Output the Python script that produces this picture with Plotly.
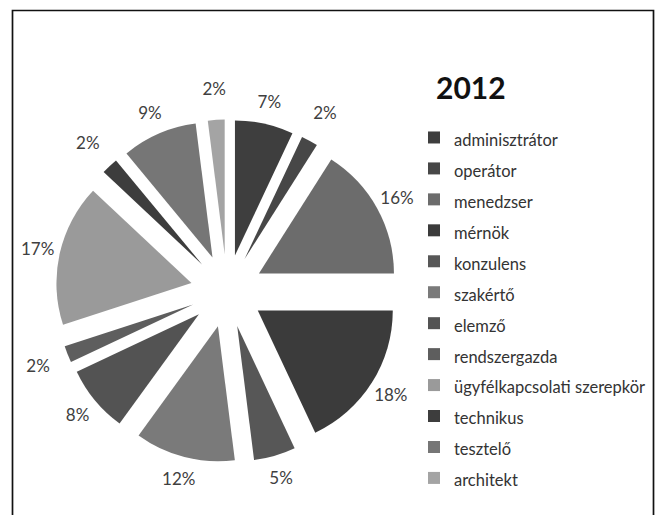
import plotly.graph_objects as go

categories = ["adminisztrátor", "operátor", "menedzser", "mérnök", "konzulens",
              "szakértő", "elemző", "rendszergazda", "ügyfélkapcsolati szerepkör",
              "technikus", "tesztelő", "architekt"]
values = [7, 2, 16, 18, 5, 12, 8, 2, 17, 2, 9, 2]
colors = ["#3e3e3e", "#474747", "#6c6c6c", "#3b3b3b", "#575757", "#7a7a7a",
          "#535353", "#5e5e5e", "#9a9a9a", "#3d3d3d", "#767676", "#a4a4a4"]
title_text = "2012"

W, H = 660, 515
FONT = "Lato, 'Open Sans', sans-serif"
CX, CY = 227, 291          # pie centre (px)
R_PIE, PULL = 135, 0.27    # slice radius and explosion
R_RING, R_HOLE = 216, 172  # invisible label ring

def dom(half):
    return dict(x=[(CX - half) / W, (CX + half) / W],
                y=[1 - (CY + half) / H, 1 - (CY - half) / H])

legend_labels = [f'<span style="font-size:16.5px">{c}</span>' for c in categories]

# visible exploded pie
pie = go.Pie(
    labels=legend_labels, values=values, sort=False,
    direction="clockwise", rotation=0, pull=PULL,
    marker=dict(colors=colors, line=dict(width=0)),
    textinfo="none",
    domain=dom(R_PIE * (1 + PULL)),
    hoverinfo="label+percent",
)

# transparent ring carrying the percentage labels
ring = go.Pie(
    labels=legend_labels, values=values, sort=False,
    direction="clockwise", rotation=0, hole=R_HOLE / R_RING,
    marker=dict(colors=["rgba(0,0,0,0)"] * len(values), line=dict(width=0)),
    texttemplate="%{percent:.0%}",
    textposition="inside",
    insidetextorientation="horizontal",
    insidetextfont=dict(family=FONT, size=17, color="#404040"),
    domain=dom(R_RING),
    showlegend=False, hoverinfo="skip",
)

fig = go.Figure([pie, ring])

fig.update_layout(
    width=W, height=H,
    margin=dict(l=0, r=0, t=0, b=0, autoexpand=False),
    paper_bgcolor="white",
    plot_bgcolor="white",
    font=dict(family=FONT, color="#404040"),
    uniformtext=dict(minsize=17, mode="show"),
    title=dict(text=f"<b>{title_text}</b>", x=436 / W, xanchor="left", xref="paper",
               y=1 - 88 / H, yanchor="middle", yref="container",
               font=dict(family=FONT, size=30, color="#111111")),
    legend=dict(x=414 / W, xanchor="left", y=1 - 117 / H, yanchor="top",
                font=dict(family=FONT, size=21.5, color="#333333"),
                bgcolor="rgba(0,0,0,0)", itemclick=False, itemdoubleclick=False),
    shapes=[dict(type="rect", xref="paper", yref="paper",
                 x0=12.5 / W, x1=653.5 / W, y0=-0.05, y1=1 - 10.5 / H,
                 line=dict(color="#111111", width=1.7), fillcolor="rgba(0,0,0,0)")],
)

fig.write_html("out.html")
